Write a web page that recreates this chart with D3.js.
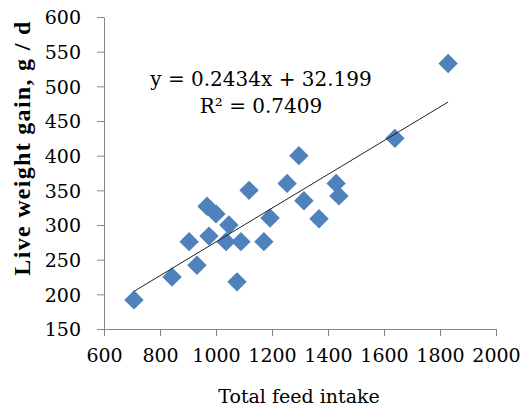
<!DOCTYPE html>
<html>
<head>
<meta charset="utf-8">
<script src="https://cdn.jsdelivr.net/npm/d3@7"></script>
<style>
  body { margin: 0; background: #fff; }
  svg text { font-family: "DejaVu Serif", serif; fill: #000; }
</style>
</head>
<body>
<svg id="chart"></svg>
<script>
// feed intake vs live weight gain
const feedIntake = [707, 843, 932, 904, 975, 968, 1000, 1046, 1036, 1089, 1075,
  1118, 1171, 1193, 1254, 1296, 1314, 1368, 1429, 1439, 1639, 1829];
const weightGain = [192, 225, 242, 276, 284, 327, 316, 300, 276, 276, 218,
  350, 276, 310, 360, 400, 335, 309, 360, 342, 425, 533];

const xTicks = [600, 800, 1000, 1200, 1400, 1600, 1800, 2000];
const yTicks = [150, 200, 250, 300, 350, 400, 450, 500, 550, 600];

// trendline from the equation on the chart
const slope = 0.2434;
const intercept = 32.199;
const eqLabel = 'y = 0.2434x + 32.199';
const r2Label = 'R² = 0.7409';

const width = 525;
const height = 411;
const margin = { top: 17, right: 29, bottom: 82, left: 104 };

const svg = d3.select('#chart')
  .attr('width', width)
  .attr('height', height);

const x = d3.scaleLinear()
  .domain([600, 2000])
  .range([margin.left, width - margin.right]);

const y = d3.scaleLinear()
  .domain([150, 600])
  .range([height - margin.bottom, margin.top]);

// axes
const yAxis = svg.append('g')
  .attr('transform', `translate(${margin.left},0)`)
  .call(d3.axisLeft(y).tickValues(yTicks).tickFormat(d3.format('d'))
    .tickSize(7).tickSizeOuter(0).tickPadding(16));

const xAxis = svg.append('g')
  .attr('transform', `translate(0,${height - margin.bottom})`)
  .call(d3.axisBottom(x).tickValues(xTicks).tickFormat(d3.format('d'))
    .tickSize(7).tickSizeOuter(0).tickPadding(13));

[xAxis, yAxis].forEach(g => {
  g.select('.domain').attr('stroke', '#868686');
  g.selectAll('.tick line').attr('stroke', '#868686');
  g.selectAll('.tick text')
    .style('font-size', '19px')
    .style('font-family', '"DejaVu Serif", serif')
    .attr('fill', '#111');
});
yAxis.selectAll('.tick text').attr('dy', '0.36em');

// points
svg.append('g')
  .selectAll('path')
  .data(feedIntake.map((d, i) => [d, weightGain[i]]))
  .enter()
  .append('path')
  .attr('d', d3.symbol().type(d3.symbolDiamond2).size(240))
  .attr('transform', d => `translate(${x(d[0])},${y(d[1])})`)
  .attr('fill', '#4F81BD');

// linear trendline across the data range
const xMin = d3.min(feedIntake);
const xMax = d3.max(feedIntake);
svg.append('line')
  .attr('x1', x(xMin))
  .attr('y1', y(slope * xMin + intercept))
  .attr('x2', x(xMax))
  .attr('y2', y(slope * xMax + intercept))
  .attr('stroke', '#222')
  .attr('stroke-width', 1);

// equation text
svg.append('text')
  .attr('x', 261)
  .attr('y', 86)
  .attr('text-anchor', 'middle')
  .style('font-size', '20px')
  .text(eqLabel);

svg.append('text')
  .attr('x', 261)
  .attr('y', 113)
  .attr('text-anchor', 'middle')
  .style('font-size', '20px')
  .text(r2Label);

// axis titles
svg.append('text')
  .attr('x', 299)
  .attr('y', 403)
  .attr('text-anchor', 'middle')
  .style('font-size', '19px')
  .text('Total feed intake');

svg.append('text')
  .attr('transform', 'translate(30,148) rotate(-90)')
  .attr('text-anchor', 'middle')
  .style('font-family', '"Liberation Serif", serif')
  .style('font-size', '24px')
  .style('letter-spacing', '1.3px')
  .style('font-weight', 'bold')
  .text('Live weight gain, g / d');
</script>
</body>
</html>
